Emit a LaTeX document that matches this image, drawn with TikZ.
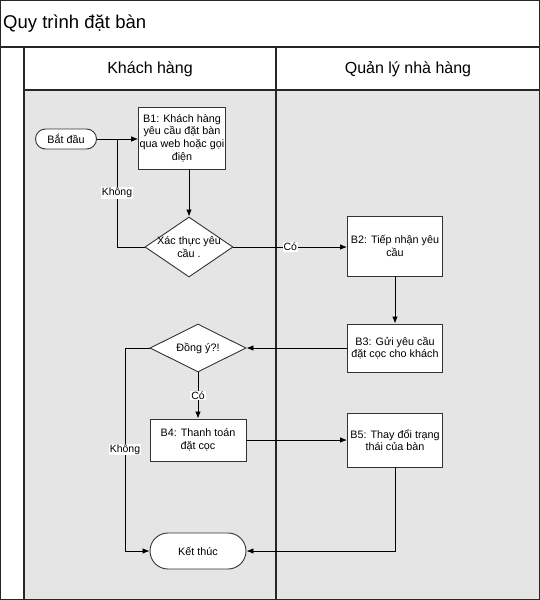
\documentclass[tikz,border=0pt]{standalone}
\usepackage{fontspec}
\setmainfont{Liberation Sans}
\usetikzlibrary{shapes.geometric,arrows.meta}
\begin{document}
\begin{tikzpicture}[x=1pt,y=-1pt,
  frame/.style={draw=black!85,line width=1.4pt},
  box/.style={draw=black!80,line width=0.9pt,fill=white,rectangle,inner sep=1pt,align=center,font=\fontsize{10.8}{12.6}\selectfont},
  term/.style={box},
  dia/.style={draw=black!80,line width=0.9pt,fill=white,diamond,inner sep=0pt},
  dtext/.style={align=center,font=\fontsize{10.8}{12.6}\selectfont,inner sep=0pt},
  conn/.style={draw=black,line width=0.8pt,-{Latex[length=7pt,width=5.5pt]}},
  plain/.style={draw=black,line width=0.8pt},
  lab/.style={fill=white,inner sep=1pt,font=\fontsize{10.5}{12}\selectfont}
]
\useasboundingbox (0,0) rectangle (540,600);
% background
\fill[white] (0,0) rectangle (540,600);
\fill[black!10] (24,90) rectangle (539,599);
% frame
\draw[frame] (0.7,0.7) rectangle (539.3,599.3);
\draw[frame] (0,47) -- (540,47);
\draw[frame] (24,90) -- (540,90);
\draw[frame] (24,47) -- (24,600);
\draw[frame,line width=1.8pt] (276,47) -- (276,600);
% headers
\node[anchor=west,font=\fontsize{18.5}{22}\selectfont,inner sep=0pt] (title) at (3,24) {Quy trình đặt bàn};
\node[font=\fontsize{16}{19}\selectfont] (h1) at (150,69) {Khách hàng};
\node[font=\fontsize{16}{19}\selectfont] (h2) at (408,69) {Quản lý nhà hàng};
% nodes
\node[term,rounded corners=10pt,minimum width=61pt,minimum height=20pt] (start) at (66,139) {Bắt đầu};
\node[box,minimum width=82pt,minimum height=62pt] (b1) at (182,138) {B1: Khách hàng\\yêu cầu đặt bàn\\qua web hoặc gọi\\điện};
\node[dia,minimum width=88pt,minimum height=60pt] (d1) at (189,247) {};
\node[dtext] (d1t) at (189,247) {Xác thực yêu\\cầu .};
\node[box,minimum width=95pt,minimum height=60pt] (b2) at (395,246) {B2: Tiếp nhận yêu\\cầu};
\node[box,minimum width=95pt,minimum height=48pt] (b3) at (395,348) {B3: Gửi yêu cầu\\đặt cọc cho khách};
\node[dia,minimum width=96pt,minimum height=48pt] (d2) at (198,348) {};
\node[dtext] (d2t) at (198,348) {Đồng ý?!};
\node[box,minimum width=96pt,minimum height=42pt] (b4) at (198,440) {B4: Thanh toán\\đặt cọc};
\node[box,minimum width=95pt,minimum height=54pt] (b5) at (395,440) {B5: Thay đổi trạng\\thái của bàn};
\node[term,rounded corners=18pt,minimum width=96pt,minimum height=36pt] (end) at (198,551) {Kết thúc};
% connectors
\coordinate (j) at (117,139);
\coordinate (k) at (125,348);
\draw[conn] (start.east) -- (start.east -| b1.west);
\draw[conn] (b1.south -| d1.north) -- (d1.north);
\draw[plain] (d1.west) -| node[lab,pos=0.75]{Không} (j);
\draw[conn] (d1.east) -- node[lab]{Có} (d1.east -| b2.west);
\draw[conn] (b2) -- (b3);
\draw[conn] (b3.west) -- (d2.east);
\draw[conn] (d2) -- node[lab]{Có} (b4);
\draw[conn] (b4) -- (b5);
\draw[conn] (b5.south) |- (end.east);
\draw[conn] (d2.west) -- (k) |- node[lab,pos=0.25]{Không} (end.west);
\end{tikzpicture}
\end{document}
